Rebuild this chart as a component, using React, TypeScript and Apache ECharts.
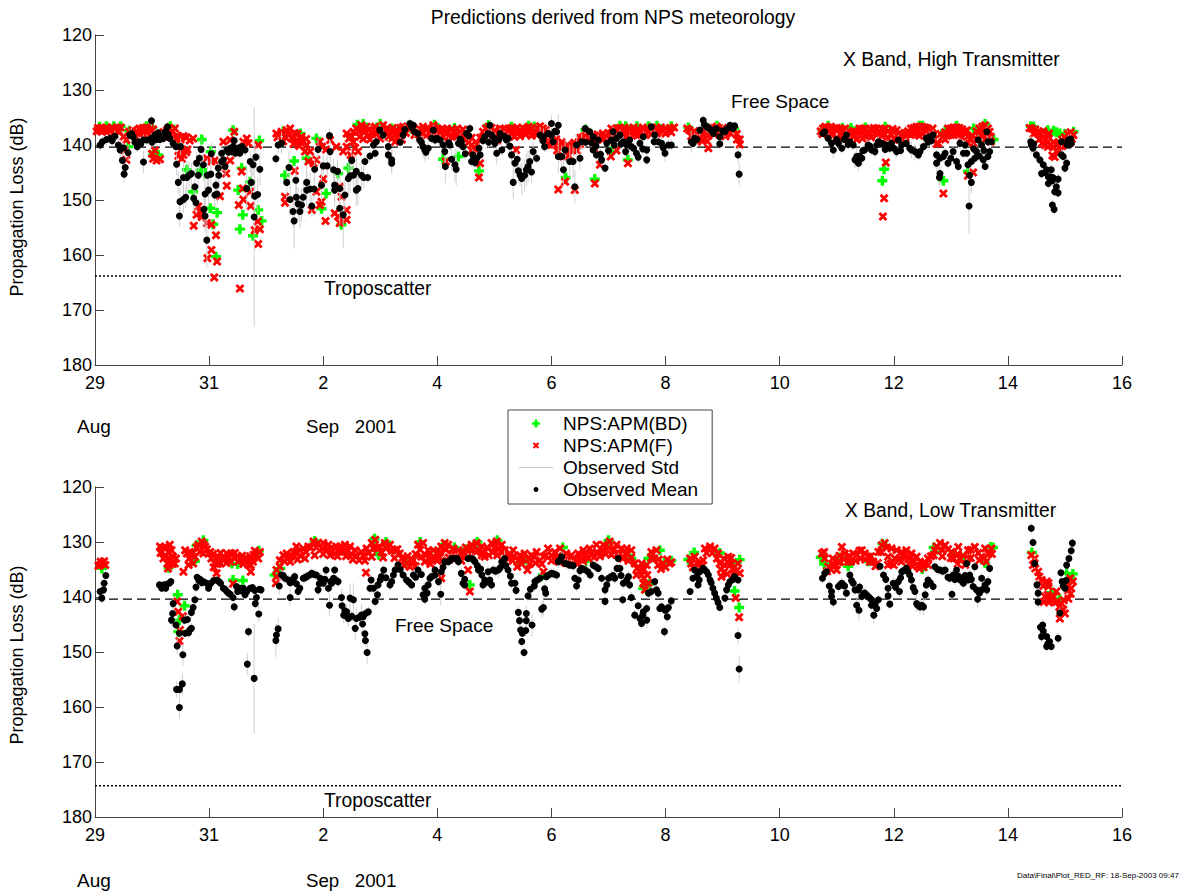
import React, { useEffect, useRef } from "react";
import * as echarts from "echarts";

const xTickLabels = ["29", "31", "2", "4", "6", "8", "10", "12", "14", "16"];
const freeSpaceTop = 140.4;
const tropoTop = 163.8;
const freeSpaceLow = 140.4;
const tropoLow = 174.3;

// [day since 29 Aug, mean loss dB, std dB]
const topMean = [
[.09,140,1],[.13,139.4,1],[.2,139,1],[.27,138.8,1],[.35,138.4,1],[.41,140,1.5],[.44,140.9,2],[.48,142.8,2],[.53,144.1,2],[.51,145.3,1.5],[.58,141.4,1.5],[.64,137.9,1],[.61,138.2,1],[.67,138.5,1],[.76,139.4,1],[.74,140.3,1],[.85,139.1,1],[.85,143.1,2],[.91,139.1,1],[.99,135.6,1],[.99,138.8,1],[1.05,138.2,1],[1.11,137.8,1],[1.17,138.5,1],[1.27,136.7,1],[1.23,137.6,1],[1.31,138.8,1],[1.37,139.7,1],[1.42,140.3,1],[1.43,143.5,2],[1.5,140.3,1.5],[1.46,146.8,2],[1.55,145.9,3],[1.61,145.9,3],[1.65,145.5,2.5],[1.69,145.2,2],[1.49,150.3,2.5],[1.55,149.9,2.5],[1.59,149.5,2],[1.48,152.9,2],[1.75,147.6,2.5],[1.73,149.7,2],[1.77,150.5,2],[1.78,143.3,2],[1.83,142.4,2],[1.86,140.8,2],[1.9,143.6,3],[1.97,145.5,3],[1.81,145.5,2.5],[1.93,148.9,3],[1.99,148.2,3],[1.91,151.7,3],[1.93,152.9,3],[1.96,157.3,5],[2.03,145.3,3],[2.04,141.6,2],[2.16,144.2,2.5],[2.17,145.5,2.5],[2.1,149.1,2],[2.14,148.9,2],[2.12,147.3,2],[2.22,143,2],[2.25,142.7,2],[2.28,143.9,2],[2.22,141.5,1.5],[2.31,140.9,1],[2.37,140.6,1],[2.42,140.3,1],[2.44,139.2,1],[2.48,140.9,1],[2.54,141.5,1],[2.63,140.9,1],[2.72,143,2],[2.77,143.6,2],[2.82,142.2,2],[2.89,144.4,3],[2.66,147.9,4],[2.74,146.8,3],[2.8,149.3,3],[2.85,149,3],[2.79,153.1,20],
[3.17,142.5,1],[3.21,140,1.5],[3.27,139.7,2],[3.4,144.1,3],[3.36,146.8,3],[3.52,146.4,3],[3.42,149.9,3],[3.53,149.5,3],[3.56,150.7,3],[3.47,152.1,3],[3.65,149.5,3],[3.62,150.9,3],[3.59,152.1,3],[3.49,153.8,5],[3.71,148.2,3],[3.71,146.8,3],[3.77,148,3],[3.84,148,2],[3.8,151.1,2],[3.85,144.4,2],[3.91,140.8,2],[3.97,147.3,3],[4,143.8,2],[4.07,143.8,2],[4.11,138.3,1.5],[4.12,141.2,2],[4.18,144.5,2],[4.25,144.8,2],[4.2,147.3,3],[4.2,148.2,3],[4.29,147.9,3],[4.29,151.5,3],[4.35,152.7,6],[4.38,149.1,3],[4.44,146.1,3],[4.47,145.6,3],[4.5,142.8,2],[4.53,145.5,3],[4.58,144.8,3],[4.61,147.9,3],[4.58,148.2,3],[4.67,145.5,2],[4.71,145.9,2],[4.78,145.9,1],[4.73,143,1],[4.82,142,1],[4.91,141.5,1],[4.88,140,1],[4.93,139.4,1],[4.99,137.3,1],[5.05,138.2,1],[5.14,140.3,1.5],[5.14,141.8,2],[5.2,142.7,2],[5.2,143.3,2],[5.4,138.2,1],[5.43,137.2,1],[5.52,136.1,1],[5.58,136.4,1],[5.66,137.9,1],[5.69,139.1,1.5],[5.75,140.3,2],[5.78,140.9,2],[5.84,140.6,2],[5.93,137.3,1],[5.99,138.8,1],
[5.9,138.8,1],[5.96,139.1,1],[6.05,139.1,1],[6.13,141.2,2],[6.14,143.9,3],[6.1,140,1],[6.22,140,1],[6.25,142.6,2],[6.31,143.6,3],[6.33,144.4,3],[6.37,139.7,1],[6.42,139.4,1],[6.45,140.3,1],[6.49,141.6,1],[6.51,137.9,1],[6.57,137,1],[6.6,143,1],[6.63,142.7,1],[6.69,142.4,1],[6.75,141.8,1],[6.73,140.6,1],[6.83,138.5,1],[6.89,137.9,1],[6.92,136.4,1],[6.95,138.2,1],[7.01,139.7,2],[7.04,141.5,2],[7.1,137.9,1],[7.13,140.9,1],[7.21,139.1,1],[7.24,138.8,1],[7.3,141.8,1.5],[7.36,143.3,2],[7.33,146.8,3],[7.4,142.6,1.5],[7.42,144.7,2],[7.45,145.5,2],[7.48,146.1,3],[7.53,145.5,3],[7.56,144.5,3],[7.62,143,2],[7.65,144.9,2],[7.59,143.9,3],[7.68,141.2,2],[7.74,142.4,1],[7.8,138.2,1.5],[7.86,138.5,1.5],[7.88,140.3,1],[7.94,137.9,1],[8,136.1,1.5],[8.12,136.4,2],[8.09,137.6,1],[8.03,139.4,1],[8.12,142.1,3],[8.18,142.1,2],[8.24,140.9,2],[8.21,144.5,3],[8.32,143,3],[8.38,143,3],[8.44,140,2],[8.41,147.6,3],[8.5,142.4,2],[8.53,139.4,1.5],[8.59,137,1],[8.67,137.6,1],[8.73,138.5,1],[8.73,140.9,1],[8.82,139.1,1],[8.79,141.8,1],[8.88,142.7,1],[8.94,144.2,1],[8.97,139.7,1],[9.05,139.1,1],[9.08,137.6,1],[9.14,138.8,1],[9.2,138.2,1],[9.26,139.4,1],[9.32,140,1],[9.37,139.1,1],[9.4,140.3,1],[9.49,141.5,1],[9.55,139.7,1],[9.61,138.5,1],[9.67,140.9,1],[9.67,142.7,1],[9.75,136.7,1],[9.81,138.2,1],[9.87,139.4,1],[9.93,139.7,1.5],[9.99,141.5,1.5],[10.05,140,1],[10.1,140,1],
[10.45,139.4,2],[10.51,138.8,1],[10.48,139.7,1],[10.6,137.3,1],[10.66,135.5,1],[10.72,136.7,1],[10.8,137.3,1],[10.89,137,1],[10.95,138.5,1],[10.95,139.8,1],[11.04,137.6,1],[11.13,136.4,.7],[11.21,136.5,.7],[11.27,141.8,1.5],[11.29,145.3,2],
[12.79,137.6,.7],[12.76,137.9,.7],[12.85,138.8,1],[12.91,139.7,1],[12.94,140.9,1.5],[13.03,139.7,1],[13.09,140.6,1],[13.17,138.2,1],[13.23,139.4,1],[13.29,140,1],[13.32,142.7,1.5],[13.38,143.3,1.5],[13.35,142.1,1.5],[13.44,142.4,1.5],[13.49,140.9,1],[13.55,140,1],[13.61,140.9,1],[13.67,141.2,1],[13.73,139.4,1],[13.79,139.7,1],[13.87,140,1],[13.93,140.6,1],[13.96,139.7,1],[14.05,141.2,1],[14.08,139.1,1],[14.14,140,1],[14.22,139.7,1],[14.31,140.9,1.5],[14.37,141.2,1.5],[14.46,141.2,1.5],[14.52,140.3,1],[14.57,138.8,1],[14.63,138.5,1],[14.69,138.2,1],[14.75,141.8,1],[14.75,143.3,1.5],[14.81,142.4,1],[14.87,142.1,1],[14.95,143.3,1],[14.81,145.2,2],[14.8,145.9,2],[15.04,141.2,1],[15.1,143,1],[15.13,143.9,1],[15.16,139.7,1],[15.25,140,1],[15.28,141.5,1],[15.3,143.6,1],[15.36,143,1],[15.42,142.4,1],[15.45,141.2,1],[15.48,139.1,1],[15.54,140,1],[15.63,137.6,1],[15.65,139.4,1],[15.71,139.4,1],[15.68,141.2,1],[15.65,142.1,1],[15.57,142.7,1],[15.6,143.9,1],[15.33,145.5,2],[15.36,146.8,2],[15.32,151.1,5],
[16.41,140,1.5],[16.44,140.6,1],[16.5,141.8,1],[16.56,142.7,1],[16.62,143.6,1],[16.59,145.2,1],[16.68,144.5,1],[16.71,145.8,1],[16.76,144.5,1],[16.74,145.8,1],[16.71,147,1],[16.79,145.9,1],[16.88,146.2,1],[16.85,147.6,1],[16.88,148.7,1],[16.82,148.5,1],[16.78,150.9,1],[16.81,151.7,1],[16.94,139.4,1],[16.94,141.8,1],[16.97,142.1,1],[17.03,143.3,1],[17,144.2,1],[17.06,139.1,1],[17.11,139.7,1],[17.08,140,1],
[.3,139.2,1],[.5,140.5,1],[.7,139.5,1],[.8,139.8,1],[1,139.5,1],[1.08,139,1],[1.14,139,1],[1.2,138.8,1],[1.28,138,1],[2.34,141.3,1],[2.4,141.2,1],[2.46,141.5,1],[2.52,140.5,1],[2.58,140.3,1],[5.35,139.5,1],[5.6,137.6,1],[5.55,136.8,1],[5.72,139.5,1],[5.8,141.3,1],[6.2,139.6,1],[6.4,138.9,1],[6.55,138.3,1],[6.62,141.8,1],[6.66,143.2,1],[6.8,139.2,1],[6.9,139.5,1],[7,138.8,1],[7.17,138.4,1],[7.27,140.2,1],[7.08,139,1],[7.85,139.2,1],[8,138.2,1],[8.06,137.5,1],[8.6,139.5,1],[8.7,139.6,1],[8.78,140.2,1],[8.86,141.7,1],[9,141,1],[9.1,140,1],[9.22,139.8,1],[9.3,141.2,1],[9.44,140.6,1],[9.52,142.2,1],[9.6,140.7,1],[9.8,139.4,1],[9.96,140.5,1],[10.55,139,1],[10.68,136.3,1],[10.76,136.9,1],[10.84,137.9,1],[11,137.4,1],[11.08,137,1],[11.18,137,1],[13,139,1],[13.13,139,1],[13.2,139.9,1],[13.4,142,1],[13.46,141,1],[13.58,140.2,1],[13.7,140,1],[13.85,140.8,1],[14,140.6,1],[14.12,141,1],[14.28,140.6,1],[14.43,141.8,1],[14.6,139.5,1],[14.66,139.2,1],[14.9,141.5,1],[15,142.4,1],[15.22,141.5,1],[15.4,140.7,1],[15.5,142,1],[15.58,141,1],[16.65,145,1],[16.78,146.5,1],[16.4,139.4,1],[16.45,139.8,1],[17.04,140,1],[17.1,138.9,1],
];

const topF = [
[.05,136.9],[.1,136.9],[.15,137.3],[.2,136.8],[.25,137.2],[.3,136.8],[.35,137.1],[.4,136.9],[.45,136.8],[.03,137.5],[.12,137.6],[.22,137.5],[.32,137.6],[.42,137.5],[.5,138.5],[.55,139.1],[.52,141],[.55,142.7],[.6,137.6],[.66,137.3],[.72,137.5],[.78,137],[.84,136.9],[.9,136.8],[.96,136.9],[1.02,137.2],[.7,138.4],[.8,138],[.88,138.1],[.98,138.3],[1,141.6],[1.02,142.5],[1.08,142.8],[1.14,142.6],[1.05,141],[1.1,138.3],[1.2,137.7],[1.26,137.3],[1.3,136.9],[1.4,137],[1.36,137.6],[1.44,138.3],[1.46,138.6],[1.5,139],[1.55,138.4],[1.6,138.6],[1.66,139.2],[1.72,138.8],[1.5,141],[1.55,141.8],[1.6,141.3],[1.46,142],[1.52,142.5],[1.62,140.8],
[.62,138.2],[.74,137.8],[.86,137.5],[.92,138.6],[1.04,138],[1.22,138.5],[1.3,138.1],[1.38,138.6],
[1.73,154.7],[1.81,151.2],[1.84,152.1],[1.78,152.7],[1.87,153.1],[1.96,154.2],[2.04,154.5],[2.12,156.4],[2.04,159.1],[1.97,160.6],[2.14,161.2],[2.09,164.1],[2.54,166.1],[2.86,158],[2.89,155.3],[2.8,155.5],[2.85,153.9],[2.73,151.1],[2.6,149.9],[2.52,150.9],[2.59,147.9],[2.72,148.5],[2.57,144.8],[2.44,137.6],[2.31,147.4],[2.19,149.3],[2.04,143],[2.1,142.8],[1.96,142.4],[2.25,143.8],[2.3,145.2],[2.37,142.8],[2.25,139.4],[2.37,139.1],[2.66,138.8],[2.6,139.4],[2.69,139.7],[2.86,140],
[3.18,137.9],[3.27,137.6],[3.36,137.3],[3.42,137],[3.33,138.5],[3.45,138.8],[3.53,139.1],[3.62,138.5],[3.65,139.4],[3.71,140],[3.77,141.2],[3.74,143],[3.83,143.3],[3.88,142.7],[3.5,144.7],[3.33,149.4],[3.33,150.5],[3.8,151.8],[3.88,148.5],[4,146.2],[3.97,150.3],[3.94,150.9],[4.04,153.8],[4.2,152.4],[4.29,147.6],[4.32,149.4],[4.26,153],[4.41,153.6],[4.29,154.2],[4.41,151.8],[3.94,139.4],[4.12,139.1],[4.23,140.3],[4.41,140.3],[4.53,139.4],[4.61,141.2],[4.41,137.9],[4.53,137.6],[4.58,137],[4.67,136.4],[4.76,136.7],[4.85,137.9],[4.73,137.6],[4.64,138.5],[4.91,136.7],[5.05,136.4],[5.11,137.6],[5.2,137.6],[5.29,137.3],[5.31,138.5],[5.2,138.8],[5.26,139.4],[5.4,136.7],[5.52,136.7],[5.64,137.9],[5.75,136.7],[5.84,137],[5.93,136.4],[6.02,137.6],
[3.2,138.6],[3.3,139.3],[3.4,138.1],[3.5,137.8],[3.55,138],[3.6,139.5],[3.7,138.9],[3.48,139.8],[3.58,140.2],[3.68,141.2],[3.98,140.3],[4.05,140.8],[4.35,141.2],[4.48,141.8],[4.56,140.5],[4.45,138.8],[4.7,137.4],[4.78,138.3],[4.82,139],[4.7,138.9],[4.95,137.8],[5,138.8],[5.08,137.5],[5.15,138.5],[5.25,138.2],[5.35,137.5],[5.38,139],[5.45,137.8],[5.6,138.2],[5.7,137.8],[5.8,138.3],[5.88,137.8],[5.98,138.4],
[5.9,137],[5.95,136.9],[6,137],[6.05,137.3],[6.1,137.1],[6.15,137.8],[6.2,138.5],[6.25,137.2],[6.3,137.5],[6.35,137],[6.4,137.7],[6.45,137.2],[6.5,138.5],[6.55,139.5],[6.6,141],[6.65,140.7],[6.73,145.9],[6.75,143.3],[6.6,140],[6.7,139.8],[6.75,138.7],[6.8,137.6],[6.85,137],[6.9,136.7],[6.95,136.9],[7,137.4],[7.05,138.2],[7.1,137],[7.15,137.2],[7.2,137.5],[7.25,137],[7.3,136.9],[7.35,137.2],[7.4,136.8],[7.45,137.3],[7.5,136.9],[7.55,137.1],[7.6,136.7],[7.65,137],[7.7,137.5],[7.75,136.9],[7.8,136.6],[7.38,140.9],[7.85,137],[7.9,137.3],[7.95,138.7],[8,140],[8.05,139.9],[8.1,141],[8.15,140.2],[8.2,142.1],[8.25,141.3],[8.3,141.9],[8.35,140.9],[8.4,140.6],[8.45,141],[8.5,139.8],[8.55,138.6],[8.6,137.6],[8.65,137.9],[8.7,138.8],[8.75,139.6],[8.8,139],[8.85,138.3],[8.9,137.9],[8.95,138.5],[9,137.8],[9.05,137],[9.1,137.3],[9.15,137],[9.2,136.9],[9.28,136.8],[9.36,137],[9.44,136.8],[9.52,137.1],[9.6,136.8],[9.68,137],[9.76,136.8],[9.84,136.9],[9.92,136.8],[10,137],[10.08,136.9],[10.15,136.8],[9.3,138],[9.45,138.1],[9.6,137.9],[9.9,137.8],[8.12,148.1],[8.24,146.7],[8.41,148.2],[8.76,147],[9.04,142.1],[8.85,143.6],[9.34,143.3],[9.14,141],[6.15,143],
[6,138.2],[6.1,138.6],[6.25,138.5],[6.35,138.4],[6.45,138.8],[6.6,138.7],[6.85,138.2],[6.95,138.3],[7.05,139.2],[7.15,138.5],[7.25,138.3],[7.35,138.5],[7.45,138.4],[7.55,138.1],[7.65,138.3],[7.75,138.1],[7.85,138.4],[7.95,139.8],[8,139],[8.1,139.5],[8.2,140.3],[8.3,140.5],[8.4,139.6],[8.5,138.7],[8.65,139],[8.75,140.6],[8.9,139],[9,139],[9.1,138.4],[9.25,138.2],[9.35,138.4],[9.5,138.3],[9.65,138.2],[9.75,138],[9.85,137.9],[10,137.9],[10.1,137.7],
[10.38,137],[10.42,137.3],[10.5,137.5],[10.55,138.2],[10.6,139],[10.65,138],[10.7,137.6],[10.75,137.2],[10.8,136.8],[10.85,136.9],[10.9,136.7],[10.95,137],[11,137],[11.05,137.4],[11.1,136.9],[11.15,137],[11.2,137.2],[11.25,138],[11.3,139],[11.3,139.9],[10.75,140.6],[10.73,139.3],[10.45,138.4],[10.55,139.4],[10.65,139.2],[10.75,138.3],[10.85,138],[10.95,138.2],[11.05,138.4],[11.15,138],[11.25,139],
[12.72,137.5],[12.76,137],[12.8,136.7],[12.85,136.8],[12.9,136.7],[12.95,137],[13,137.4],[13.05,137],[13.1,137.2],[13.15,137],[13.2,137.5],[13.25,137.8],[13.3,138.5],[13.35,137.6],[13.4,137],[13.45,137.1],[13.5,137],[13.55,137.6],[13.6,137.2],[13.65,136.9],[13.7,137],[13.75,137.5],[13.8,137.2],[13.85,137],[13.9,137.5],[13.95,138],[14,137.6],[14.05,137.3],[14.1,137.8],[14.15,138.2],[14.2,138.5],[14.25,137.5],[14.3,137],[14.35,136.9],[14.4,136.7],[14.45,136.7],[14.5,136.7],[14.55,136.8],[14.6,137],[14.65,137.5],[14.7,138.2],[14.78,139.7],[14.85,138.6],[14.9,137.7],[14.95,137],[15,137],[15.05,136.8],[15.1,136.8],[15.15,136.9],[15.2,137.2],[15.25,137.6],[15.3,138.5],[15.35,138.8],[15.4,139.7],[15.45,137.5],[15.5,137],[15.55,136.7],[15.6,136.4],[15.65,137],[15.7,138.5],[13.86,143.2],[13.83,149.7],[13.81,153],[14.87,148.8],[15.39,145],[15.3,145.6],[13,138.6],[12.85,138.2],[13.2,139],[13.35,139],[13.45,138.8],[14.35,138],[14.45,138.3],[14.6,138.4],[15.05,138.2],[15.2,138.6],
[12.75,138],[12.9,138],[13.1,138.5],[13.25,139],[13.4,138.2],[13.5,138.4],[13.6,138.6],[13.7,138.2],[13.8,138.5],[13.9,138.8],[14,139],[14.1,139],[14.2,139.6],[14.3,138.2],[14.5,138],[14.65,138.8],[14.75,139.8],[14.9,139],[15,138.2],[15.1,138],[15.3,139.6],[15.55,138],[15.6,139],[15.65,138.5],[15.7,139.4],
[16.38,136.9],[16.42,137],[16.48,137.2],[16.52,137.8],[16.58,138],[16.62,138.6],[16.66,139],[16.7,139.4],[16.75,140],[16.8,139.5],[16.85,139.8],[16.9,139.6],[16.95,139],[17,138.6],[17.05,138],[17.1,137.7],[17.15,138.2],[17.12,138.9],[17.1,139.5],[17,139.9],[16.7,138.3],[16.82,142.2],[16.87,141.4],[16.78,141.9],[16.45,138],[16.55,139],[16.6,139.7],[16.65,140],[16.7,140.3],[16.8,140.4],[16.9,140.3],[17,139],[17.05,139.3],[16.95,140.2],[16.55,137.6],[16.62,137.5],[16.72,137.9],
[4.5,138.5],[4.62,137.5],[4.8,137.2],[4.88,138.2],[5,137.2],[5.12,136.9],[5.22,136.9],[5.35,136.9],[5.47,136.7],[5.58,136.9],[5.68,137],[5.8,137.2],[5.9,137.9],[6.05,138],[6.17,137],[6.33,138],[6.42,138.7],[6.88,137.6],[6.98,137.8],[7.12,137.8],[7.22,137.9],[7.32,137.6],[7.42,137.8],[7.52,137.6],[7.62,137.6],[7.72,137.8],[7.82,137.6],[7.92,138],[8.08,138.9],[8.18,139.5],[8.28,140],[8.38,140.2],[8.48,139.4],[8.58,138.4],[8.72,138.1],[8.82,138.3],[8.92,138.8],[9.02,138.4],[9.12,137.8],[9.22,137.6],[9.32,137.6],[9.42,137.6],[9.55,137.7],[9.7,137.7],[9.8,137.5],[9.95,137.4],[10.05,137.4],[.08,137.3],[.18,137.4],[.28,137.5],[.38,137.4],[12.82,137.5],[13,136.9],[13.08,138],[13.18,138.2],[13.3,137.5],[13.42,137.6],[13.55,138.2],[13.68,137.7],[13.82,137.8],[13.98,137.1],[14.08,138.5],[14.22,137.9],[14.33,137.6],[14.42,137.4],[14.55,137.4],[14.68,137],[14.82,138],[14.93,138.3],[15.03,137.5],[15.15,137.5],[15.28,137.3],[15.38,138.3],[15.48,138.2],[15.58,137.5],[15.68,137.6],
];

const topBD = [
[.08,136.7],[.2,136.6],[.33,136.6],[.45,136.6],[1.61,144.5],[1.87,144.5],[1.85,144.6],[1.93,145.2],[1.72,148.5],[2.02,151.5],[2.14,152.3],[2.07,154.4],[2.12,160.3],[2.54,155.3],[2.59,152.7],[2.51,148.2],[2.72,146.7],[2.57,144.2],[2.42,137.3],[2.88,139.2],[2.86,151.8],[2.92,153.8],[2.77,156.5],[3.49,142.9],[3.33,145.5],[3.97,151.6],[4.05,148.8],[3.71,142.4],[3.88,138.8],[4.32,154.5],[4.26,145.2],[4.44,144.2],[1.02,141.8],[1.11,141.8],[1.46,139.1],[.58,140.3],[1.87,139],[2.03,141.2],[.9,136.6],[1.32,136.6],[4.7,136.2],[5,136.2],[5.5,136.5],[5.95,136.3],[6.73,144.7],[8.25,145.9],[6.37,142.1],[9.05,141.2],[9.34,142.7],[8.76,146.2],[6.1,142.6],[6.9,136.5],[7.6,136.5],[8.6,137.3],[9.3,136.6],[9.7,136.6],[10.1,136.6],[10.75,136.9],[13.83,144.4],[13.8,146.5],[14.87,146.5],[15.3,144.8],[15.6,136.2],[16.85,137.7],[16.8,137.4],[16.91,137.9],[12.85,136.5],[13.25,136.9],[14.5,136.5],[15.1,136.6],[16.45,136.7],
[3.3,137.5],[3.6,137.9],[4.6,136.3],[5.2,137],[5.6,137.7],[6.3,136.9],[6.9,136.4],[7.3,136.7],[7.7,136.7],[8.6,137.2],[9.2,136.5],[9.5,136.6],[9.85,136.5],[10.4,136.8],[10.9,136.5],[11.2,137],[12.75,137.2],[13.1,136.9],[13.5,136.8],[13.85,136.7],[14.2,138],[14.45,136.5],[14.9,137.5],[15.1,136.5],[15.4,137],[15.75,139],[16.4,136.6],[16.7,137.3],[17,138],[17.15,137.6],[1,136.8],[.6,137.4],
];

const lowMean = [
[.12,140.2,1],[.09,139,1],[.15,138.7,1],[.16,137.5,1],[.19,136.1,1],[1.13,137.8,.7],[1.17,138.1,.7],[1.21,137.8,.7],[1.26,137.7,.7],[1.3,137.5,.7],[1.33,137.2,.7],[1.17,138.4,.7],[1.24,138.4,.7],[1.37,141.2,1],[1.36,143,1],[1.34,144.2,1],[1.42,145.1,1],[1.44,148.9,1.5],[1.48,146.6,1],[1.54,150.5,2],[1.48,156.8,1.5],[1.43,156.8,1.5],[1.53,155.8,2],[1.48,160.1,2],[1.58,146.6,1],[1.57,144.2,1],[1.62,144.1,1],[1.66,146,1],[1.64,146.5,1],[1.69,145.7,1],[1.69,142.8,1],[1.72,141.9,1],[1.75,140.5,1],[1.77,138.2,1],[1.79,136.4,.7],[1.84,136.8,.7],[1.9,137.2,.7],[1.96,137.5,.7],[1.99,138.4,.7],[2.03,137.5,.7],[2.08,137,.7],[2.14,136.9,.7],[2.2,137.5,.7],[2.25,138.4,.7],[2.31,139,.7],[2.37,139.5,.7],[2.42,140.1,.7],[2.44,141.8,1],[2.48,138.1,.7],[2.54,138.4,.7],[2.6,138.4,.7],[2.63,139.6,.7],[2.66,139,.7],[2.72,138.4,.7],[2.8,138.8,.7],[2.83,140.1,.7],[2.81,141.2,1],[2.87,143.1,1.5],[2.91,138.7,.7],[2.69,146.3,1],[2.67,152.2,2],[2.79,154.8,10],
[3.21,145.8,2],[3.18,146.9,2],[3.17,147.9,3],[3.23,138,1.5],[3.27,136,1],[3.33,136.6,1],[3.39,136.9,1],[3.45,137.2,1],[3.42,140.1,1.5],[3.5,136.3,1],[3.53,137.6,1],[3.56,139,1],[3.59,138.4,1],[3.65,136.6,1],[3.71,136.3,1],[3.8,135.7,1],[3.88,136,1],[3.91,138.7,1],[3.95,136.6,1],[4,137.5,1],[4.05,135.1,1],[4.11,141.5,2],[4.09,138.4,1],[4.15,137.5,1],[4.2,135.1,1],[4.26,137.2,1],[4.18,136.6,1],[4.32,140.1,1.5],[4.33,141.6,1],[4.41,142.7,1.5],[4.36,143.3,1.5],[4.44,143.9,1.5],[4.47,140.2,2.5],[4.53,140.5,3],[4.56,145.7,2],[4.58,143.9,2],[4.67,143.3,2],[4.7,143.6,1],[4.79,142.7,1],[4.69,144.9,1],[4.73,146.7,1],[4.74,147.9,1],[4.77,150.1,2],[4.84,136.9,1],[4.82,138.4,1],[4.88,138.4,1],[4.91,140.8,1],[4.95,139.6,1],[4.96,137.8,1],[5.02,136.3,1],[5.06,135.1,1],[5.17,137.8,1],[5.2,137.2,1],[5.26,135.1,1],[5.31,134.2,1],[5.4,136,1],[5.46,136.9,1],[5.55,137.8,1],[5.58,136,1],[5.66,135.1,1],[5.75,139.6,1],[5.78,138.4,1],[5.84,137.8,1],[5.78,140.4,1],[5.87,136.6,1],[5.96,136,1],
[5.9,136.3,1],[5.96,135.1,1],[6.02,137.2,1],[6.06,139.5,2],[6.07,135.4,1],[6.13,133.6,1],[6.19,133.6,1],[6.25,133,1],[6.31,133,1],[6.37,133.6,1],[6.45,137.5,1],[6.48,137.8,1],[6.54,133,1],[6.6,133,1],[6.66,133.6,1],[6.72,135.1,1],[6.78,136,1],[6.8,137.8,1],[6.83,136.9,1],[6.89,135.4,1],[6.95,137.8,1],[6.98,135.1,1],[7.07,135.1,1.5],[7.13,133.6,1],[7.18,133,1.5],[7.24,135.1,1.5],[7.3,137.5,1],[7.36,137.5,1],[7.38,138.8,1],[7.42,142.8,1],[7.44,144.3,1],[7.46,146,1],[7.56,143,1.5],[7.56,144.3,1.5],[7.55,146.1,1],[7.49,146.6,1.5],[7.48,148.1,1],[7.52,150.1,1],[7.66,145.1,2],[7.59,139.8,1],[7.63,138.6,1],[7.71,137.2,1],[7.8,136.6,1],[7.9,139.3,1],[7.86,141.9,1.5],[7.83,142.2,1.5],[7.91,136.3,1],[8,135.7,1],[8.09,136,1],[8.12,133.6,1],[8.18,132.7,1],[8.24,133.9,1],[8.32,134.2,1],[8.41,136.6,1],[8.47,136.9,1],[8.44,138,1],[8.53,134.8,1],[8.64,135.4,1],[8.73,134.2,1],[8.82,134.8,1],[8.88,136.6,1],[8.94,140.8,1],[8.97,137.8,1],[8.94,138.7,1],[9.05,136.3,1],[9.11,136.6,1],[9.17,133,1],[9.2,134.8,1],[9.26,137.5,1],[9.25,140.5,1],[9.32,136.9,1],[9.37,137.8,1],[9.4,140.1,1],[9.46,143.3,1],[9.52,141.6,1],[9.55,143.9,1],[9.58,144.8,1],[9.67,144.2,1.5],[9.7,139.3,1],[9.67,142.1,1],[9.61,142.7,1],[9.81,137.2,1],[9.84,138.7,1],[9.87,139.3,1],[9.9,142.1,1],[9.99,142.4,1],[10.05,141.9,1],[10.03,143.6,1],[9.98,146.3,1],[10.1,140.7,.7],
[10.43,139,.7],[10.48,136.6,.7],[10.51,135.1,.7],[10.6,135.4,.7],[10.66,134.8,.7],[10.72,135.4,.7],[10.78,136.9,.7],[10.83,138.4,.7],[10.89,140.2,.7],[10.95,141.9,.7],[11.04,140.2,.7],[11.07,138.7,.7],[11.13,137.2,.7],[11.21,136.3,.7],[11.27,136.9,.7],[11.27,147,1.5],[11.29,153.1,2.5],[10.59,136.9,.7],[10.57,137.8,.7],
[12.75,136.6,1],[12.79,135.7,1],[12.82,135.4,1],[12.87,138,1],[12.91,139,1],[12.91,139.9,1],[12.94,140.9,1],[13.03,138.1,1],[13.09,137.5,1],[13.11,137.8,1],[13.17,139.3,1],[13.23,136,1],[13.29,137.5,1],[13.32,138.7,1],[13.35,141.5,1.5],[13.39,142.4,2],[13.38,138.7,1],[13.44,139.9,1],[13.49,139.3,1],[13.55,139.9,1],[13.61,140.5,1],[13.61,141.5,1],[13.65,143.3,1.5],[13.7,142.1,1],[13.73,140.5,1],[13.76,134.4,1],[13.82,136,1],[13.86,136.8,1],[13.9,138.4,1],[13.9,139.8,1],[13.93,141.3,1],[13.99,137.5,1],[14.08,137.2,1],[14.1,139,1],[14.14,135.4,1],[14.22,134.8,1],[14.28,136,1],[14.31,136.9,1],[14.37,139,1],[14.4,141.2,1.5],[14.46,141.8,1.5],[14.52,141.8,1.5],[14.55,139.6,1],[14.6,136.9,1],[14.57,137.8,1],[14.69,138.1,1],[14.72,134.5,1],[14.81,135.1,1],[14.9,135.1,1],[14.95,136.4,1],[15.02,139.5,1],[15.07,136.8,1],[15.1,135.1,1],[15.16,136.9,1],[15.22,137.5,1],[15.28,133.9,1],[15.33,136,1],[15.42,134.5,1],[15.39,138.1,1],[15.45,138.7,1],[15.47,140.4,1.5],[15.54,136.6,1],[15.54,138.7,1],[15.63,138.7,1],[15.65,137.2,1],[15.68,134.8,1],
[16.41,127.5,1],[16.44,130.1,1],[16.47,133.9,1],[16.51,137.8,1],[16.53,139.3,1],[16.53,140.9,1],[16.61,145.1,1],[16.57,145.5,1],[16.59,147.2,1],[16.68,147.2,1],[16.68,149,1],[16.73,148.1,1],[16.76,149,1],[16.88,147.5,1],[16.91,142.9,1],[16.93,135.6,1],[17,138.4,1],[16.97,138,1],[17.03,134.2,1],[17.07,133,1],[17.11,131.6,1],[17.13,130.2,1],
[1.82,137,.7],[1.87,137.4,.7],[2,137.9,.7],[2.17,137.2,.7],[2.28,138.6,.7],[2.34,139.3,.7],[2.5,139,.7],[2.57,138.9,.7],[2.76,138.3,.7],[2.88,138.6,.7],[3.3,136.1,1],[3.42,137.4,1],[3.48,136.6,1],[3.68,136.5,1],[3.76,136,1],[3.84,135.9,1],[3.93,137.6,1],[4.03,136.8,1],[4.13,137.2,1],[4.22,136.9,1],[4.38,142.5,1],[4.42,143.6,1],[4.5,143.5,1],[4.63,143.7,1],[4.74,143,1],[5,136.9,1],[5.1,136.5,1],[5.23,136,1],[5.35,135,1],[5.5,137.3,1],[5.62,136.4,1],[5.72,135.9,1],[5.82,139.3,1],[6.1,134.6,1],[6.22,133.4,1],[6.35,133,1],[6.42,135.7,1],[6.48,136.8,1],[6.63,133.2,1],[6.7,134.3,1],[6.76,134.9,1],[6.86,137.3,1],[6.92,136.9,1],[7.02,135.3,1],[7.1,134.7,1],[7.2,134.3,1],[7.28,136.2,1],[7.7,138,1],[7.75,136.9,1],[7.88,138.5,1],[7.95,136,1],[8.04,135.8,1],[8.15,133.3,1],[8.28,134,1],[8.38,134.3,1],[8.5,135.2,1],[8.58,135,1],[8.68,136,1],[8.78,134.5,1],[9,136.6,1],[9.08,136.1,1],[9.15,134.8,1],[9.22,136.1,1],[9.35,136.3,1],[9.6,143.3,1],[9.75,139,1],[9.93,141.8,1],[10.02,142.2,1],
[10.55,136.2,.7],[10.68,135,.7],[10.75,136,.7],[10.8,137.4,.7],[10.86,139.3,.7],[10.92,141,.7],[11.1,137.8,.7],[11.18,136.8,.7],
[13.06,137.8,1],[13.14,138,1],[13.26,137,1],[13.4,138.2,1],[13.47,139.4,1],[13.52,139.6,1],[13.58,140.2,1],[13.67,141.3,1],[14.03,138.2,1],[14.12,136.5,1],[14.17,135.2,1],[14.25,135.4,1],[14.34,138.3,1],[14.42,141.5,1],[14.49,141.5,1],[14.64,137.4,1],[14.77,135,1],[14.86,135.3,1],[14.98,136.6,1],[15.04,136,1],[15.13,136.2,1],[15.2,136.6,1],[15.25,136.1,1],[15.3,136.9,1],[15.36,136.8,1],[15.5,139.3,1],[15.6,137.8,1],[16.7,148.5,1],[16.62,146.2,1],[17.02,137,1],[16.95,137.2,1],
];

const lowF = [
[.09,134.2],[.06,134.3],[.1,133.6],[.13,133.9],[.16,133.5],[.18,134.2],
[1.14,130.8],[1.17,131.8],[1.23,132.4],[1.31,130.5],[1.34,131.5],[1.28,133],[1.37,132.7],[1.4,133.9],[1.28,134.8],[1.27,133.9],[1.55,135.4],[1.61,132.1],[1.66,131.8],[1.64,134.2],[1.72,133.9],[1.75,132.7],[1.81,130.5],[1.87,129.9],[1.93,130.8],[1.9,132.1],[1.99,132.1],[2.04,133],[2.1,133.9],[2.13,135.7],[2.16,132.7],[2.25,132.7],[2.31,132.1],[2.37,133.6],[2.39,132.1],[2.45,133],[2.51,133.6],[2.55,133],[2.63,133],[2.69,134.2],[2.73,135.4],[2.77,133.6],[2.83,132.4],[2.89,131.8],[2.86,133],[2.2,133.9],[2.3,133.8],[2.6,134],[1.44,140.8],[1.46,142.7],[1.54,143.5],[1.49,146],[1.48,148],[2.42,137.6],
[1.15,132],[1.25,131],[1.2,133],[1.3,132],[1.22,130.9],[1.3,134.2],[1.36,134],[1.42,133],[1.58,131.5],[1.65,133],[1.72,132],[1.78,131],[1.84,131.8],[1.9,130.4],[1.96,131.3],[2.02,131.8],[2.07,132.2],[2.12,133],[2.2,132],[2.27,133],[2.35,132.9],[2.45,132],[2.5,132.6],[2.58,132.5],[2.66,133],[2.72,132.6],[2.78,132.3],[2.8,131.6],[2.73,134.2],[2.08,134.6],[2.15,134],
[3.17,137.5],[3.18,136.3],[3.18,135.1],[3.24,133.3],[3.3,132.4],[3.36,132.1],[3.42,133.6],[3.48,131.8],[3.53,130.8],[3.59,131.5],[3.65,131.2],[3.74,130.8],[3.83,129.9],[3.91,130.2],[4,130.2],[4.09,130.5],[4.15,131.8],[4.23,130.8],[4.29,131.8],[4.38,130.5],[4.47,130.8],[4.56,131.5],[4.63,133.3],[4.67,131.8],[4.76,131.2],[4.85,130.2],[4.91,129.6],[4.94,131.2],[5.02,131.8],[5.08,130.2],[5.17,130.5],[5.26,131.5],[5.34,132.1],[5.43,133.3],[5.52,134.5],[5.58,133.3],[5.66,130.5],[5.75,130.2],[5.78,133.6],[5.84,131.5],[5.93,131.5],[6.02,132.1],[4.75,135.6],
[3.24,134.5],[3.32,133.5],[3.4,132.8],[3.45,132.5],[3.52,132],[3.6,132.5],[3.7,131.8],[3.78,131],[3.88,131],[3.98,131.2],[4.06,131.5],[4.15,131],[4.2,132.2],[4.3,130.8],[4.35,131.7],[4.43,131.6],[4.5,132.2],[4.58,132.5],[4.7,132.5],[4.8,131.9],[4.88,131.2],[4.98,130.8],[5.1,131.2],[5.2,131.6],[5.3,131.3],[5.38,133],[5.48,132.6],[5.55,133.8],[5.62,132.2],[5.7,131.4],[5.8,132.4],[5.9,133.2],[6,133.4],
[5.87,132.1],[5.93,132.7],[6.02,132.7],[6.07,130.8],[6.13,130.2],[6.19,130.5],[6.28,131.2],[6.37,131.5],[6.45,131.8],[6.54,131.5],[6.6,130.5],[6.69,130.2],[6.78,130.8],[6.83,132.7],[6.89,131.2],[6.95,130.2],[7.04,129.9],[7.13,130.5],[7.18,131.5],[7.27,132.1],[7.33,131.5],[7.4,134.5],[7.45,132.4],[7.53,132.1],[7.58,135.1],[7.65,132.4],[7.74,131.8],[7.86,132.7],[7.86,135.4],[7.94,131.2],[8.06,131.8],[8.15,131.2],[8.26,132.1],[8.35,132.4],[8.47,132.1],[8.56,131.5],[8.67,131.2],[8.79,130.5],[8.91,130.5],[9.02,129.9],[9.14,130.5],[9.23,131.2],[9.32,131.2],[9.4,131.5],[9.46,133.9],[9.49,136],[9.58,136],[9.61,137.5],[9.64,138.7],[9.7,137.5],[9.58,133.9],[9.75,131.8],[9.84,131.5],[9.67,134.2],[9.87,134.2],[9.96,133.9],[10.07,133.9],[10.45,133.9],[10.43,133],[10.51,132.7],[10.6,133.9],[10.66,133.3],[10.69,131.2],[10.78,130.8],[10.86,131.2],[10.92,132.1],[10.95,133.9],[10.98,136.3],[11.04,134.2],[11.1,132.7],[11.16,133.9],[11.21,135.4],[11.27,133.9],[11.3,135.7],[6.57,139],[11.23,140.2],[11.29,143.7],[6.54,135.1],[6.07,136.6],
[6.05,131.8],[6.15,131.4],[6.25,132.2],[6.35,132.5],[6.45,132.7],[6.5,131],[6.62,131.5],[6.72,131.4],[6.8,131.8],[6.9,132.4],[7,131],[7.08,131.3],[7.15,131.8],[7.25,133],[7.35,132.6],[7.42,133.4],[7.5,133.2],[7.6,133],[7.7,132.7],[7.8,133.3],[7.9,132.4],[8,132.5],[8.1,132.8],[8.2,132.6],[8.3,133.3],[8.4,133.3],[8.5,132.9],[8.6,132.5],[8.7,132.2],[8.8,131.8],[8.9,131.4],[9,131],[9.1,131.4],[9.2,132.2],[9.3,132.1],[9.4,132.8],[9.5,134.8],[9.55,135.2],[9.62,135],[9.68,136],[9.75,132.9],[9.8,133],[9.88,133.2],[10,134.6],[10.03,133.2],[9.92,134.9],[9.62,136.6],[10.1,133.7],
[10.48,134.6],[10.55,133.8],[10.63,134.4],[10.72,132],[10.82,132],[10.9,133],[10.97,135],[11.03,135.4],[11.12,134.2],[11.18,135],[11.02,133],[11.08,135.8],[11.25,135.2],[11.15,132.9],
[12.74,132.1],[12.79,133],[12.85,134.5],[12.94,134.2],[13,135.1],[13.06,133.6],[13.09,130.9],[13.14,132.1],[13.2,133.6],[13.29,132.1],[13.35,132.4],[13.44,131.5],[13.49,132.1],[13.55,132.7],[13.64,133.6],[13.73,131.8],[13.79,130.6],[13.84,130.2],[13.9,132.7],[13.96,131.2],[13.9,134.2],[14.05,131.5],[14.14,131.8],[14.22,131.5],[14.31,132.1],[14.4,132.7],[14.46,133.6],[14.55,133.9],[14.6,134.2],[14.72,131.5],[14.81,130.2],[14.9,130.6],[15.01,131.8],[15.13,130.9],[15.16,133],[15.25,134.2],[15.3,131.5],[15.42,130.9],[15.54,132.7],[15.6,131.2],[15.71,131.2],[15.62,133.6],
[12.78,131.8],[12.9,135],[12.83,135.3],[12.98,134.2],[13.05,132.5],[13.12,133.2],[13.22,132.5],[13.33,133.4],[13.4,131.6],[13.5,133.2],[13.6,132.6],[13.68,134.4],[13.78,131.8],[13.88,131],[13.95,133.9],[14.02,133],[14.1,133],[14.18,132.6],[14.28,133],[14.36,133.5],[14.45,134.8],[14.52,134.6],[14.65,132.6],[14.75,130.8],[14.85,131.5],[14.95,131.3],[15.05,133],[15.12,132.2],[15.22,132.5],[15.35,131.4],[15.48,132],[15.58,133],[15.66,132.2],[15.35,132.9],[15.12,134],
[16.41,132.4],[16.47,133],[16.44,134.2],[16.53,135.4],[16.59,136.9],[16.65,139.9],[16.71,137.5],[16.74,140.5],[16.71,138.1],[16.85,140.9],[16.94,141.2],[17,143],[16.91,143.9],[17.03,137.5],[17.09,136.6],[17.11,138.4],[17.14,137.2],[17.06,140.3],
[16.48,134.8],[16.55,136.3],[16.62,138],[16.68,137.2],[16.7,139.6],[16.63,140.9],[16.72,141],[16.8,140],[16.9,141.8],[16.97,142.3],[17,137.8],[17.05,138.8],[17.1,139.4],[16.98,140.6],[16.85,139],
[3.55,133.2],[3.68,133],[3.85,132.4],[4,132.2],[4.12,132.4],[4.25,132.6],[4.4,132.6],[4.52,133.2],[4.73,133.4],[4.85,132.7],[5.05,132.8],[5.25,132.9],[5.42,134.3],[5.62,134.4],[5.72,132.7],[5.88,134],[6.08,133.3],[6.2,132.8],[6.3,133.2],[6.42,133.4],[6.58,132.4],[6.68,131.8],[6.78,132.4],[6.97,131.9],[7.05,132.4],[7.22,132.8],[7.32,133.4],[7.48,134],[7.62,134],[7.72,133.8],[7.83,134],[8,133.4],[8.13,133.6],[8.25,133.8],[8.35,134],[8.45,134],[8.55,133.5],[8.65,133],[8.75,132.8],[8.85,132.6],[8.95,132.2],[9.05,132.3],[9.15,132.3],[9.25,133],[9.35,133.4],[12.93,133],[13.03,133.7],[13.25,133.6],[13.42,133],[13.58,133.6],[13.72,133.8],[14,134.2],[14.13,133.6],[14.25,134],[14.33,134.4],[14.42,134.4],[14.6,133],[14.7,132.4],[14.85,132.6],[15,132.9],[15.3,133],[15.5,133.3],[15.72,132.2],
];

const lowBD = [
[.12,134.8],[1.45,139.6],[1.57,141.6],[1.48,144.2],[1.46,146.3],[2.42,136.9],[2.59,137],[3.15,136],[2.87,131.6],[1.29,134.7],[1.78,130.6],[2.5,134],[4.93,131.5],[4.97,132.3],[5.5,134],[6.1,130.5],[6.57,137.8],[11.29,141.9],[11.21,138.9],[9.61,138.4],[7.42,133.8],[9.7,133],[9.9,131.5],[9.98,133.7],[10.5,131.9],[10.95,132],[11.3,133.2],[12.78,134],[13.06,132.8],[13.55,133.5],[14.7,131],[15.2,133],[15.7,130.9],[16.42,131.9],[17.14,135.8],[16.91,140.4],[16.76,139.2],[17.09,136.6],[17.03,135.7],[16.88,140.8],
[1.9,129.7],[1.75,133.5],[2.4,133.9],[3.25,134.8],[3.85,129.8],[4.9,129.4],[5.1,130],[5.7,130],[5.95,133],[6.3,131],[6.5,131.3],[6.7,130],[7.05,129.7],[7.55,133.2],[7.85,136],[8.2,131],[8.6,133.5],[9,129.7],[9.4,133],[9.72,137.6],[10.1,133.4],[10.4,133.2],[11.15,133.7],[12.72,132.8],[13.2,134.4],[13.8,130.3],[14.5,134.9],[14.72,131.8],[15.05,132.2],[15.6,133.8],[15.74,131],
];

const PLUS = "path://M33 0H67V33H100V67H67V100H33V67H0V33H33Z";
const CROSS = "path://M22 0L50 28L78 0L100 22L72 50L100 78L78 100L50 72L22 100L0 78L28 50L0 22Z";
const PLUS_ICON = PLUS;
const CROSS_ICON = "path://M0 0h0M100 100h0M28 10L50 32L72 10L90 28L68 50L90 72L72 90L50 68L28 90L10 72L32 50L10 28Z";
const LINE_ICON = "path://M0 0H100V3H0Z";
const DOT_ICON = "path://M0 0h0M100 100h0M50 20a30 30 0 1 0 0.01 0Z";
const FONT = "Liberation Sans";

function panel(i: number, bd: number[][], f: number[][], mean: number[][], fs: number, tropo: number) {
  return [
    { name: "_fs", type: "line", xAxisIndex: i, yAxisIndex: i, data: [[0, fs], [18, fs]], showSymbol: false, silent: true, z: 1, lineStyle: { color: "#000", width: 1.3, type: [9, 5] } },
    { name: "_tr", type: "line", xAxisIndex: i, yAxisIndex: i, data: [[0, tropo], [18, tropo]], showSymbol: false, silent: true, z: 1, lineStyle: { color: "#000", width: 1.5, type: [2, 2] } },
    { name: "NPS:APM(BD)", type: "scatter", xAxisIndex: i, yAxisIndex: i, data: bd, symbol: PLUS, symbolSize: 10, itemStyle: { color: "#00ff00", opacity: 1 }, z: 2 },
    { name: "NPS:APM(F)", type: "scatter", xAxisIndex: i, yAxisIndex: i, data: f, symbol: CROSS, symbolSize: 9, itemStyle: { color: "#ff0000", opacity: 1 }, z: 3 },
    {
      name: "Observed Std", type: "custom", xAxisIndex: i, yAxisIndex: i, data: mean, z: 4, itemStyle: { color: "#c8c8c8" },
      encode: { x: 0, y: 1 },
      renderItem: (_p: any, api: any) => {
        const x = api.value(0), m = api.value(1), s = api.value(2);
        const a = api.coord([x, m - s]), b = api.coord([x, m + s]);
        return { type: "line", shape: { x1: a[0], y1: a[1], x2: b[0], y2: b[1] }, style: { stroke: "#c8c8c8", lineWidth: 1, opacity: 0.85 } };
      },
    },
    { name: "Observed Mean", type: "scatter", xAxisIndex: i, yAxisIndex: i, data: mean, symbol: "circle", symbolSize: 7, itemStyle: { color: "#000", opacity: 1 }, z: 5 },
  ];
}

function label(text: string, x: number, y: number, fontSize = 19) {
  return { type: "text", x, y, z: 20, style: { text, x: 0, y: 0, fill: "#000", fontSize, fontFamily: FONT, verticalAlign: "middle", align: "left" } };
}

export default function App() {
  const ref = useRef<HTMLDivElement>(null);
  useEffect(() => {
    const chart = echarts.init(ref.current!, null, { renderer: "svg" });
    const axisX = (gridIndex: number) => ({
      type: "value", gridIndex, min: 0, max: 18, interval: 2,
      splitLine: { show: false },
      axisLine: { onZero: false, lineStyle: { color: "#444" } },
      axisTick: { inside: true, length: 9, lineStyle: { color: "#444" } },
      axisLabel: { color: "#000", fontSize: 18, fontFamily: FONT, margin: 9, formatter: (v: number) => xTickLabels[v / 2] },
    });
    const axisY = (gridIndex: number) => ({
      type: "value", gridIndex, min: 120, max: 180, interval: 10, inverse: true,
      splitLine: { show: false },
      axisLine: { onZero: false, lineStyle: { color: "#444" } },
      axisTick: { inside: true, length: 9, lineStyle: { color: "#444" } },
      axisLabel: { color: "#000", fontSize: 18, fontFamily: FONT, margin: 3 },
    });
    chart.setOption({
      animation: false,
      backgroundColor: "#fff",
      textStyle: { fontFamily: FONT },
      title: { text: "Predictions derived from NPS meteorology", left: 608, top: 3, textAlign: "center", textStyle: { fontSize: 19.3, fontWeight: "normal", color: "#000", fontFamily: FONT } },
      legend: {
        left: 508, top: 410, orient: "vertical", padding: [4, 14, 5, 11], itemGap: 3, itemWidth: 34, itemHeight: 8,
        backgroundColor: "#fff", borderColor: "#444", borderWidth: 1, z: 30,
        selectedMode: false,
        textStyle: { color: "#000", fontSize: 19, fontFamily: FONT, padding: [0, 0, 0, 5] },
        data: [
          { name: "NPS:APM(BD)", icon: PLUS_ICON },
          { name: "NPS:APM(F)", icon: CROSS_ICON },
          { name: "Observed Std", icon: LINE_ICON },
          { name: "Observed Mean", icon: DOT_ICON },
        ],
      },
      grid: [
        { left: 95, width: 1027, top: 35, height: 330 },
        { left: 95, width: 1027, top: 487, height: 330 },
      ],
      xAxis: [axisX(0), axisX(1)],
      yAxis: [axisY(0), axisY(1)],
      series: [
        ...panel(0, topBD, topF, topMean, freeSpaceTop, tropoTop),
        ...panel(1, lowBD, lowF, lowMean, freeSpaceLow, tropoLow),
      ],
      graphic: [
        { type: "group", children: [
          label("X Band, High Transmitter", 843, 59, 19.4),
          label("Free Space", 731, 101),
          label("Troposcatter", 324, 288, 19.3),
          label("Aug", 77, 426),
          label("Sep   2001", 306, 426, 18.7),
          label("X Band, Low Transmitter", 845, 510, 19.3),
          label("Free Space", 395, 625),
          label("Troposcatter", 324, 800, 19.3),
          label("Aug", 77, 880),
          label("Sep   2001", 306, 880, 18.7),
          label("Data\\Final\\Plot_RED_RF: 18-Sep-2003 09:47", 1017, 875, 8),
          { type: "text", x: 17, y: 207, rotation: Math.PI / 2, style: { text: "Propagation Loss (dB)", fill: "#000", fontSize: 18, fontFamily: FONT, align: "center", verticalAlign: "middle" } },
          { type: "text", x: 17, y: 655, rotation: Math.PI / 2, style: { text: "Propagation Loss (dB)", fill: "#000", fontSize: 18, fontFamily: FONT, align: "center", verticalAlign: "middle" } },
        ] },
      ],
    });
    return () => chart.dispose();
  }, []);
  return <div ref={ref} style={{ position: "absolute", left: 0, top: 0, width: 1184, height: 894 }} />;
}
